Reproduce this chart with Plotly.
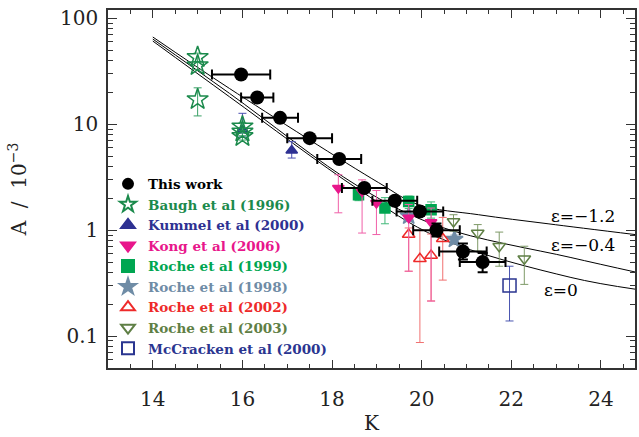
import math
import plotly.graph_objects as go

# ---- this work ----
tw_K = [15.97, 16.33, 16.84, 17.50, 18.16, 18.72, 19.40, 19.96, 20.33, 20.92, 21.36]
tw_A = [29.5, 17.9, 11.5, 7.4, 4.7, 2.5, 1.9, 1.5, 1.0, 0.63, 0.50]
tw_Kerr = [0.65, 0.36, 0.40, 0.50, 0.49, 0.50, 0.50, 0.52, 0.52, 0.53, 0.51]
tw_Ahi = [31.5, 19.2, 12.3, 7.9, 5.0, 2.7, 2.05, 1.62, 1.16, 0.75, 0.61]
tw_Alo = [27.6, 16.7, 10.7, 6.9, 4.4, 2.3, 1.75, 1.38, 0.87, 0.53, 0.40]

# ---- literature ----
baugh_K = [15.0, 15.0, 15.0, 16.0, 16.0, 16.0]
baugh_A = [43.0, 36.0, 17.2, 9.5, 8.5, 7.7]
baugh_hi = [47.0, 39.0, 22.1, 10.3, 9.2, 8.3]
baugh_lo = [39.0, 33.0, 12.0, 8.7, 7.8, 7.1]

kummel_K = [16.0, 17.1]
kummel_A = [8.8, 5.65]
kummel_hi = [12.7, 6.85]
kummel_lo = [7.6, 4.8]

kong_K = [18.14, 18.67, 18.99, 19.71, 20.21]
kong_A = [2.50, 2.32, 1.81, 1.31, 1.19]
kong_hi = [3.34, 2.99, 2.37, 1.75, 1.62]
kong_lo = [1.46, 0.94, 0.91, 0.41, 0.214]

r99_K = [18.59, 19.18, 19.71, 20.21]
r99_A = [2.16, 1.62, 1.87, 1.56]
r99_hi = [2.45, 2.03, 2.10, 1.85]
r99_lo = [1.90, 1.15, 1.60, 1.30]

r98_K = [19.71, 20.73]
r98_A = [1.36, 0.82]
r98_hi = [1.50, 0.90]
r98_lo = [1.22, 0.74]

r02_K = [19.71, 19.96, 20.21, 20.47]
r02_A = [0.91, 0.537, 0.577, 0.83]
r02_hi = [1.05, 1.00, 0.92, 1.32]
r02_lo = [0.41, 0.087, 0.215, 0.338]

r03_K = [20.71, 21.25, 21.73, 22.29]
r03_A = [1.21, 0.94, 0.706, 0.537]
r03_hi = [1.40, 1.13, 0.96, 0.706]
r03_lo = [0.98, 0.634, 0.457, 0.308]

mcc_K = [21.96]
mcc_A = [0.30]
mcc_hi = [0.457]
mcc_lo = [0.139]

# ---- model curves ----
m12_K = [14.0, 15.71, 19.04, 19.93, 21.27, 22.82, 24.76]
m12_A = [66.7, 21.8, 2.81, 1.74, 1.40, 1.15, 0.91]
m04_K = [14.0, 15.71, 18.6, 20.38, 23.33, 24.8]
m04_A = [63.8, 19.6, 2.57, 1.09, 0.552, 0.40]
m00_K = [14.0, 15.71, 18.6, 20.38, 23.33, 24.8]
m00_A = [61.1, 18.2, 2.41, 0.85, 0.358, 0.276]

model_labels = ["ε=−1.2", "ε=−0.4", "ε=0"]
label_K = [23.6, 23.6, 23.1]
label_A = [1.37, 0.73, 0.27]

FONT = "DejaVu Serif"

fig = go.Figure()

for mk, ma in [(m12_K, m12_A), (m04_K, m04_A), (m00_K, m00_A)]:
    fig.add_trace(go.Scatter(x=mk, y=ma, mode="lines", line=dict(color="black", width=1, shape="spline"),
                             showlegend=False, hoverinfo="skip"))


def errs(A, hi, lo):
    return [h - a for a, h in zip(A, hi)], [a - l for a, l in zip(A, lo)]


def add_set(rank, name, color, ecolor, K, A, hi, lo, symbol, size, lw=1.5, ewidth=1, ecap=4):
    up, dn = errs(A, hi, lo)
    fig.add_trace(go.Scatter(
        x=K, y=A, mode="markers", legendrank=rank,
        name=f"<span style='color:{color}'><b>{name}</b></span>",
        marker=dict(symbol=symbol, size=size, color=color, line=dict(color=color, width=lw)),
        error_y=dict(type="data", symmetric=False, array=up, arrayminus=dn,
                     color=ecolor, thickness=ewidth, width=ecap),
    ))


# drawing order (back to front); legend order set by rank
add_set(6, "Roche et al (1998)", "#6f8ca6", "#8aa2b8", r98_K, r98_A, r98_hi, r98_lo, "star", 13)
add_set(7, "Roche et al (2002)", "#ee2a2a", "#f07070", r02_K, r02_A, r02_hi, r02_lo, "triangle-up-open", 11)
add_set(8, "Roche et al (2003)", "#5f7f45", "#7f9a68", r03_K, r03_A, r03_hi, r03_lo, "triangle-down-open", 11)
add_set(9, "McCracken et al (2000)", "#2a3590", "#4a55b0", mcc_K, mcc_A, mcc_hi, mcc_lo, "square-open", 13)
add_set(5, "Roche et al (1999)", "#00a651", "#40b878", r99_K, r99_A, r99_hi, r99_lo, "square", 10)
add_set(4, "Kong et al (2006)", "#e8168b", "#f060a8", kong_K, kong_A, kong_hi, kong_lo, "triangle-down", 10)
add_set(3, "Kummel et al (2000)", "#2e3192", "#4a4fb0", kummel_K, kummel_A, kummel_hi, kummel_lo, "triangle-up", 10)
add_set(2, "Baugh et al (1996)", "#1b8a4c", "#3aa066", baugh_K, baugh_A, baugh_hi, baugh_lo, "star-open", 16)

up, dn = errs(tw_A, tw_Ahi, tw_Alo)
fig.add_trace(go.Scatter(
    x=tw_K, y=tw_A, mode="markers", name="<b>This work</b>", legendrank=1,
    marker=dict(symbol="circle", size=14, color="black"),
    error_x=dict(type="data", array=tw_Kerr, color="black", thickness=2, width=5),
    error_y=dict(type="data", symmetric=False, array=up, arrayminus=dn, color="black", thickness=2, width=5),
))

for t, k, a in zip(model_labels, label_K, label_A):
    fig.add_annotation(x=k, y=math.log10(a), text=t, showarrow=False,
                       font=dict(family=FONT, size=17, color="black"))

axis_common = dict(showline=True, linecolor="#333", linewidth=1.5, mirror="allticks",
                   ticks="inside", tickcolor="#333", showgrid=False, zeroline=False,
                   tickfont=dict(family=FONT, size=20, color="#222"))

fig.update_xaxes(range=[13.0, 24.76], dtick=2, tick0=14, ticklen=8,
                 minor=dict(ticks="inside", dtick=0.5, ticklen=4, tickcolor="#333"),
                 title=dict(text="K", font=dict(family=FONT, size=20, color="#222"), standoff=6),
                 ticklabelstandoff=12, **axis_common)
fig.update_yaxes(type="log", range=[math.log10(0.05), math.log10(120)],
                 ticklen=9, tickvals=[0.1, 1, 10, 100], ticktext=["0.1", "1", "10", "100"],
                 minor=dict(ticks="inside", ticklen=5, tickcolor="#333", dtick="D1"),
                 title=dict(text="A  /  10<sup>−3</sup>", font=dict(family=FONT, size=20, color="#222"), standoff=28),
                 ticklabelstandoff=4, **axis_common)

fig.update_layout(
    width=639, height=437, margin=dict(l=108, r=2, t=10, b=69),
    paper_bgcolor="white", plot_bgcolor="white",
    legend=dict(x=0.0, y=0.557, xanchor="left", yanchor="top", bgcolor="rgba(0,0,0,0)",
                font=dict(family=FONT, size=13.5, color="black"), traceorder="normal",
                itemsizing="constant", tracegroupgap=0),
)

fig.write_html("out.html")
